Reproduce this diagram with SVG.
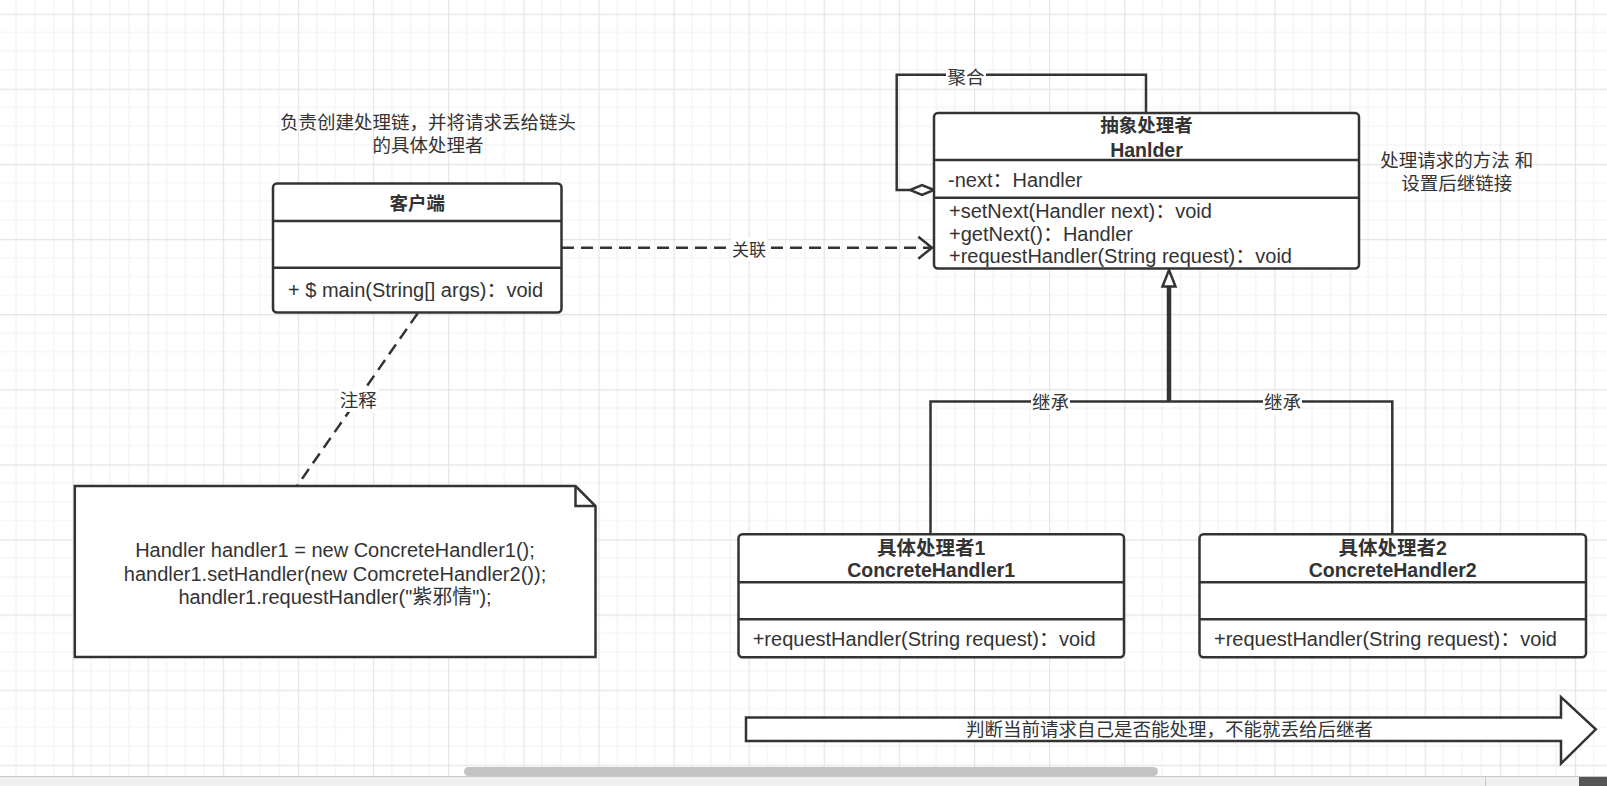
<svg xmlns="http://www.w3.org/2000/svg" width="1607" height="786" viewBox="0 0 1607 786">
<defs>
<pattern id="grid" x="-2.62" y="13.58" width="75.12" height="75.12" patternUnits="userSpaceOnUse">
<path d="M18.78 0V75.12M37.56 0V75.12M56.34 0V75.12M0 18.78H75.12M0 37.56H75.12M0 56.34H75.12" stroke="#f2f2f2" stroke-width="1.2" fill="none"/>
<path d="M0.6 0V75.12M0 0.6H75.12" stroke="#e4e4e4" stroke-width="1.2" fill="none"/>
</pattern>
<style>
.box{fill:#fff;stroke:#333;stroke-width:2.5}
.div{stroke:#333;stroke-width:2.5}
.edge{fill:none;stroke:#333;stroke-width:2.5}
.dash{fill:none;stroke:#333;stroke-width:2.5;stroke-dasharray:12 7}
.t{font-family:"Liberation Sans","Noto Sans CJK SC",sans-serif;fill:#333}
.cjk{font-size:18.5px}
.mem{font-size:20px}
.b{font-weight:bold;font-size:18.5px}
.bl{font-weight:bold;font-size:19.5px}
.lbl{fill:#fff}
</style>
</defs>
<rect width="1607" height="786" fill="#fff"/>
<rect width="1607" height="786" fill="url(#grid)"/>

<g id="connectors">
  <!-- aggregation self loop -->
  <path class="edge" d="M1146 113V74.7H896.7V190H910"/>
  <polygon points="934,190 922,185 910,190 922,195" fill="#fff" stroke="#333" stroke-width="2.5"/>
  <rect class="lbl" x="946" y="66" width="40" height="22"/>
  <text class="t cjk" x="966" y="83.5" text-anchor="middle">聚合</text>
  <!-- association -->
  <path class="dash" d="M562 247.7H930"/>
  <polyline class="edge" points="918.3,236.7 932,247.7 918.3,258.7"/>
  <rect class="lbl" x="731" y="238" width="36" height="22"/>
  <text class="t" x="749" y="256" text-anchor="middle" font-size="17">关联</text>
  <!-- note link -->
  <path class="dash" d="M417.7 313.3L297 486"/>
  <rect class="lbl" x="339" y="388" width="39" height="24"/>
  <text class="t cjk" x="358.3" y="406.5" text-anchor="middle">注释</text>
  <!-- inheritance -->
  <path class="edge" d="M930.5 534V401.5H1169M1392.3 534V401.5H1169"/>
  <path d="M1169 401.5V286" stroke="#333" stroke-width="4.5" fill="none"/>
  <polygon points="1169,270 1162.5,286.5 1175.5,286.5" fill="#fff" stroke="#333" stroke-width="2.5"/>
  <rect class="lbl" x="1031" y="391" width="39" height="23"/>
  <text class="t cjk" x="1050.5" y="409" text-anchor="middle">继承</text>
  <rect class="lbl" x="1263" y="391" width="39" height="23"/>
  <text class="t cjk" x="1282.5" y="409" text-anchor="middle">继承</text>
</g>

<g id="text-client-note">
  <text class="t cjk" x="428" y="129.3" text-anchor="middle">负责创建处理链，并将请求丢给链头</text>
  <text class="t cjk" x="428" y="152" text-anchor="middle">的具体处理者</text>
</g>

<g id="text-handler-note">
  <text class="t cjk" x="1456.7" y="167" text-anchor="middle">处理请求的方法 和</text>
  <text class="t cjk" x="1456.7" y="190.3" text-anchor="middle">设置后继链接</text>
</g>

<g id="client">
  <rect class="box" x="273" y="183.5" width="288.5" height="129" rx="4"/>
  <path class="div" d="M273 221H561.5M273 267.7H561.5"/>
  <text class="t b" x="417.3" y="210" text-anchor="middle">客户端</text>
  <text class="t mem" x="288" y="297.3">+ $ main(String[] args)：void</text>
</g>

<g id="handler">
  <rect class="box" x="934" y="113" width="425" height="155.5" rx="4"/>
  <path class="div" d="M934 160H1359M934 197.7H1359"/>
  <text class="t b" x="1146.5" y="132" text-anchor="middle">抽象处理者</text>
  <text class="t bl" x="1146.5" y="156.5" text-anchor="middle">Hanlder</text>
  <text class="t mem" x="948" y="187.3">-next：Handler</text>
  <text class="t mem" x="949" y="217.7">+setNext(Handler next)：void</text>
  <text class="t mem" x="949" y="240.5">+getNext()：Handler</text>
  <text class="t mem" x="949" y="263.3">+requestHandler(String request)：void</text>
</g>

<g id="note">
  <path d="M74.8 486H575.5L595.5 506V657H74.8Z" fill="#fff" stroke="#333" stroke-width="2.5"/>
  <path d="M575.5 486V506H595.5" fill="none" stroke="#333" stroke-width="2.5"/>
  <text class="t" font-size="20" x="335" y="557.3" text-anchor="middle">Handler handler1 = new ConcreteHandler1();</text>
  <text class="t" font-size="20" x="335" y="580.5" text-anchor="middle">handler1.setHandler(new ComcreteHandler2());</text>
  <text class="t" font-size="20" x="335" y="603.7" text-anchor="middle">handler1.requestHandler("紫邪情");</text>
</g>

<g id="concrete1">
  <rect class="box" x="738.5" y="534.3" width="385.5" height="123" rx="4"/>
  <path class="div" d="M738.5 582.3H1124M738.5 619.3H1124"/>
  <text class="t bl" x="931.2" y="554.5" text-anchor="middle">具体处理者1</text>
  <text class="t bl" x="931.2" y="577" text-anchor="middle">ConcreteHandler1</text>
  <text class="t mem" x="752.7" y="646">+requestHandler(String request)：void</text>
</g>

<g id="concrete2">
  <rect class="box" x="1199.5" y="534.3" width="386.5" height="123" rx="4"/>
  <path class="div" d="M1199.5 582.3H1586M1199.5 619.3H1586"/>
  <text class="t bl" x="1392.7" y="554.5" text-anchor="middle">具体处理者2</text>
  <text class="t bl" x="1392.7" y="577" text-anchor="middle">ConcreteHandler2</text>
  <text class="t mem" x="1214" y="646">+requestHandler(String request)：void</text>
</g>

<g id="flow-arrow">
  <path d="M746 717.4H1561V697L1595.8 729.3L1561 763.6V741H746Z" fill="#fff" stroke="#333" stroke-width="2.5" stroke-linejoin="miter"/>
  <text class="t cjk" x="1169.4" y="736" text-anchor="middle">判断当前请求自己是否能处理，不能就丢给后继者</text>
</g>

<g id="chrome">
  <rect x="0" y="776" width="1607" height="10" fill="#f0f0f0"/>
  <path d="M0 776.5H1607" stroke="#c8c8c8" stroke-width="1"/>
  <path d="M1485.5 776V786" stroke="#c8c8c8" stroke-width="1"/>
  <rect x="464" y="767" width="694" height="9" rx="4.5" fill="#c4c4c4"/>
  <rect x="1579" y="777" width="28" height="9" fill="#555"/>
</g>
</svg>
